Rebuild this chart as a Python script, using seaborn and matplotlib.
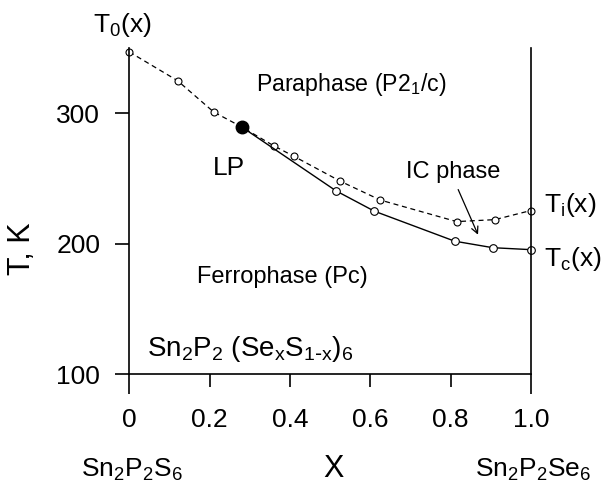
import matplotlib
matplotlib.use("Agg")
import matplotlib.pyplot as plt
import seaborn as sns
import pandas as pd

# Transition temperatures of Sn2P2(SexS1-x)6 versus composition x
x_ti = [0.0, 0.12, 0.21, 0.28, 0.36, 0.41, 0.525, 0.625, 0.815, 0.91, 1.0]
t_ti = [347, 325, 301, 289.5, 275, 267, 248, 233.5, 217, 218.5, 225.5]
x_tc = [0.28, 0.515, 0.61, 0.81, 0.905, 1.0]
t_tc = [289.5, 240.5, 225, 202, 197, 195.5]
lp_x, lp_t = 0.28, 289.5

x_ticks = [0, 0.2, 0.4, 0.6, 0.8, 1.0]
x_labels = ["0", "0.2", "0.4", "0.6", "0.8", "1.0"]
y_ticks = [100, 200, 300]

sns.set_theme(style="white")
plt.rcParams["font.family"] = ["Liberation Sans", "DejaVu Sans"]
plt.rcParams["mathtext.default"] = "regular"
plt.rcParams["text.color"] = "black"

W, H = 602, 488
fig = plt.figure(figsize=(W / 100, H / 100), dpi=100)
ax = fig.add_axes([0.2148, 0.2330, 0.6672, 0.6686])

df_ti = pd.DataFrame({"x": x_ti, "T": t_ti})
df_tc = pd.DataFrame({"x": x_tc, "T": t_tc})

sns.lineplot(data=df_ti, x="x", y="T", ax=ax, sort=False, estimator=None,
             color="black", lw=0.9, dashes=False, linestyle=(0, (4, 3)),
             marker="o", markersize=5, markerfacecolor="white",
             markeredgecolor="black", markeredgewidth=0.8, clip_on=False)
sns.lineplot(data=df_tc, x="x", y="T", ax=ax, sort=False, estimator=None,
             color="black", lw=1.0, marker="o", markersize=5.5,
             markerfacecolor="white", markeredgecolor="black",
             markeredgewidth=0.8, clip_on=False)
ax.plot([lp_x], [lp_t], "o", color="black", ms=9, zorder=5, clip_on=False)

ax.set_xlim(0, 1.0)
ax.set_ylim(100, 350)
ax.set_xticks(x_ticks)
ax.set_xticklabels(x_labels)
ax.set_yticks(y_ticks)
ax.set_xlabel("")
ax.set_ylabel("")

for side in ["left", "bottom", "right"]:
    ax.spines[side].set_visible(True)
    ax.spines[side].set_color("black")
    ax.spines[side].set_linewidth(1.2)
ax.spines["top"].set_visible(False)

ax.tick_params(axis="both", direction="out", colors="black", labelsize=19,
               width=1.2, length=9.5, left=True, bottom=True, right=False)
ax.tick_params(axis="x", pad=14.5)
ax.tick_params(axis="y", length=10, pad=11)
# the end ticks of the x axis continue the vertical frame lines downward
for i in (0, len(x_ticks) - 1):
    ax.xaxis.get_major_ticks()[i].tick1line.set_markersize(14.5)


def fx(px):
    return px / W


def fy(py):
    return 1 - py / H


fig.text(fx(351), fy(85), "Paraphase (P2$_1$/c)", fontsize=16.7,
         ha="center", va="center")
fig.text(fx(229), fy(168), "LP", fontsize=19, ha="center", va="center")
fig.text(fx(453), fy(172), "IC phase", fontsize=17, ha="center", va="center")
fig.text(fx(282), fy(277), "Ferrophase (Pc)", fontsize=17, ha="center", va="center")
fig.text(fx(147), fy(356), "Sn$_2$P$_2$ (Se$_x$S$_{1\\text{-}x}$)$_6$",
         fontsize=20, ha="left", va="baseline")
ax.annotate("", xy=(0.871, 205), xytext=(0.816, 243.5),
            arrowprops=dict(arrowstyle="->", color="black", lw=0.9,
                            mutation_scale=12))

fig.text(fx(122), fy(32), "T$_0$(x)", fontsize=19, ha="center", va="baseline")
fig.text(fx(544), fy(212), "T$_i$(x)", fontsize=19, ha="left", va="baseline")
fig.text(fx(544), fy(266), "T$_c$(x)", fontsize=19, ha="left", va="baseline")
fig.text(fx(22), fy(249), "T, K", fontsize=22, rotation=90,
         ha="center", va="center")
fig.text(fx(333), fy(477), "X", fontsize=22, ha="center", va="baseline")
fig.text(fx(132), fy(477), "Sn$_2$P$_2$S$_6$", fontsize=19,
         ha="center", va="baseline")
fig.text(fx(533), fy(477), "Sn$_2$P$_2$Se$_6$", fontsize=19,
         ha="center", va="baseline")

fig.savefig("out.png", dpi=100, facecolor="white")
